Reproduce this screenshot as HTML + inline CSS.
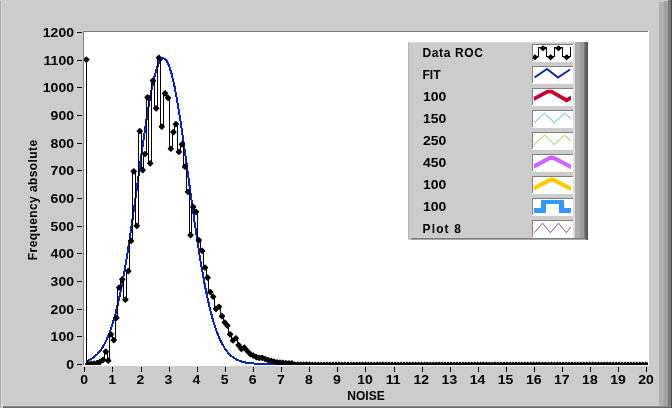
<!DOCTYPE html><html><head><meta charset="utf-8"><style>html,body{margin:0;padding:0;width:672px;height:408px;overflow:hidden;background:#cccccc}svg{display:block;will-change:transform}text{font-family:"Liberation Sans",sans-serif;font-weight:bold;fill:#000}</style></head><body>
<svg width="672" height="408" viewBox="0 0 672 408" shape-rendering="crispEdges">
<rect x="0" y="0" width="672" height="408" fill="#cccccc"/>
<rect x="0" y="1" width="1" height="407" fill="#ababab"/>
<rect x="1" y="0" width="1" height="408" fill="#dadada"/>
<rect x="659" y="2" width="5" height="406" fill="#b0b0b0"/>
<rect x="664" y="1" width="4" height="407" fill="#a0a0a0"/>
<rect x="668" y="0" width="3" height="408" fill="#7a7a7a"/>
<rect x="3" y="406" width="668" height="1" fill="#8a8a8a"/>
<rect x="3" y="407" width="668" height="1" fill="#6a6a6a"/>
<rect x="671" y="0" width="1" height="408" fill="#484848"/>
<rect x="83" y="31" width="566" height="335" fill="#ffffff"/>
<rect x="83" y="31" width="565" height="1" fill="#808080"/>
<rect x="83" y="31" width="1" height="334" fill="#808080"/>
<rect x="77" y="364" width="5" height="1" fill="#000"/>
<text transform="translate(74,369.1) scale(1.17,1)" font-size="12" text-anchor="end">0</text>
<rect x="77" y="336" width="5" height="1" fill="#000"/>
<text transform="translate(74,341.4) scale(1.17,1)" font-size="12" text-anchor="end">100</text>
<rect x="77" y="309" width="5" height="1" fill="#000"/>
<text transform="translate(74,313.8) scale(1.17,1)" font-size="12" text-anchor="end">200</text>
<rect x="77" y="281" width="5" height="1" fill="#000"/>
<text transform="translate(74,286.1) scale(1.17,1)" font-size="12" text-anchor="end">300</text>
<rect x="77" y="253" width="5" height="1" fill="#000"/>
<text transform="translate(74,258.4) scale(1.17,1)" font-size="12" text-anchor="end">400</text>
<rect x="77" y="226" width="5" height="1" fill="#000"/>
<text transform="translate(74,230.8) scale(1.17,1)" font-size="12" text-anchor="end">500</text>
<rect x="77" y="198" width="5" height="1" fill="#000"/>
<text transform="translate(74,203.1) scale(1.17,1)" font-size="12" text-anchor="end">600</text>
<rect x="77" y="170" width="5" height="1" fill="#000"/>
<text transform="translate(74,175.4) scale(1.17,1)" font-size="12" text-anchor="end">700</text>
<rect x="77" y="143" width="5" height="1" fill="#000"/>
<text transform="translate(74,147.8) scale(1.17,1)" font-size="12" text-anchor="end">800</text>
<rect x="77" y="115" width="5" height="1" fill="#000"/>
<text transform="translate(74,120.1) scale(1.17,1)" font-size="12" text-anchor="end">900</text>
<rect x="77" y="87" width="5" height="1" fill="#000"/>
<text transform="translate(74,92.4) scale(1.17,1)" font-size="12" text-anchor="end">1000</text>
<rect x="77" y="60" width="5" height="1" fill="#000"/>
<text transform="translate(74,64.8) scale(1.17,1)" font-size="12" text-anchor="end">1100</text>
<rect x="77" y="32" width="5" height="1" fill="#000"/>
<text transform="translate(74,37.1) scale(1.17,1)" font-size="12" text-anchor="end">1200</text>
<rect x="84" y="367" width="1" height="5" fill="#000"/>
<text transform="translate(84.1,384) scale(1.17,1)" font-size="12" text-anchor="middle">0</text>
<rect x="112" y="367" width="1" height="5" fill="#000"/>
<text transform="translate(112.2,384) scale(1.17,1)" font-size="12" text-anchor="middle">1</text>
<rect x="141" y="367" width="1" height="5" fill="#000"/>
<text transform="translate(140.3,384) scale(1.17,1)" font-size="12" text-anchor="middle">2</text>
<rect x="169" y="367" width="1" height="5" fill="#000"/>
<text transform="translate(168.4,384) scale(1.17,1)" font-size="12" text-anchor="middle">3</text>
<rect x="197" y="367" width="1" height="5" fill="#000"/>
<text transform="translate(196.5,384) scale(1.17,1)" font-size="12" text-anchor="middle">4</text>
<rect x="225" y="367" width="1" height="5" fill="#000"/>
<text transform="translate(224.6,384) scale(1.17,1)" font-size="12" text-anchor="middle">5</text>
<rect x="253" y="367" width="1" height="5" fill="#000"/>
<text transform="translate(252.7,384) scale(1.17,1)" font-size="12" text-anchor="middle">6</text>
<rect x="281" y="367" width="1" height="5" fill="#000"/>
<text transform="translate(280.8,384) scale(1.17,1)" font-size="12" text-anchor="middle">7</text>
<rect x="309" y="367" width="1" height="5" fill="#000"/>
<text transform="translate(308.9,384) scale(1.17,1)" font-size="12" text-anchor="middle">8</text>
<rect x="337" y="367" width="1" height="5" fill="#000"/>
<text transform="translate(337.0,384) scale(1.17,1)" font-size="12" text-anchor="middle">9</text>
<rect x="365" y="367" width="1" height="5" fill="#000"/>
<text transform="translate(365.1,384) scale(1.17,1)" font-size="12" text-anchor="middle">10</text>
<rect x="394" y="367" width="1" height="5" fill="#000"/>
<text transform="translate(393.2,384) scale(1.17,1)" font-size="12" text-anchor="middle">11</text>
<rect x="422" y="367" width="1" height="5" fill="#000"/>
<text transform="translate(421.3,384) scale(1.17,1)" font-size="12" text-anchor="middle">12</text>
<rect x="450" y="367" width="1" height="5" fill="#000"/>
<text transform="translate(449.4,384) scale(1.17,1)" font-size="12" text-anchor="middle">13</text>
<rect x="478" y="367" width="1" height="5" fill="#000"/>
<text transform="translate(477.5,384) scale(1.17,1)" font-size="12" text-anchor="middle">14</text>
<rect x="506" y="367" width="1" height="5" fill="#000"/>
<text transform="translate(505.6,384) scale(1.17,1)" font-size="12" text-anchor="middle">15</text>
<rect x="534" y="367" width="1" height="5" fill="#000"/>
<text transform="translate(533.7,384) scale(1.17,1)" font-size="12" text-anchor="middle">16</text>
<rect x="562" y="367" width="1" height="5" fill="#000"/>
<text transform="translate(561.8,384) scale(1.17,1)" font-size="12" text-anchor="middle">17</text>
<rect x="590" y="367" width="1" height="5" fill="#000"/>
<text transform="translate(589.9,384) scale(1.17,1)" font-size="12" text-anchor="middle">18</text>
<rect x="618" y="367" width="1" height="5" fill="#000"/>
<text transform="translate(618.0,384) scale(1.17,1)" font-size="12" text-anchor="middle">19</text>
<rect x="646" y="367" width="1" height="5" fill="#000"/>
<text transform="translate(646.1,384) scale(1.17,1)" font-size="12" text-anchor="middle">20</text>
<text x="366" y="399.5" font-size="12" text-anchor="middle">NOISE</text>
<text transform="translate(36.6,199.8) rotate(-90)" x="0" y="0" font-size="12" letter-spacing="0.41" text-anchor="middle">Frequency absolute</text>
<svg x="84" y="32" width="564" height="333" viewBox="84 32 564 333" overflow="hidden">
<path d="M86.00,361.27 L88.95,360.11 L91.90,358.54 L94.85,356.44 L97.80,353.68 L100.75,350.09 L103.70,345.51 L106.65,339.77 L109.60,332.66 L112.55,324.03 L115.50,313.72 L118.45,301.61 L121.40,287.64 L124.35,271.81 L127.30,254.22 L130.25,235.05 L133.20,214.61 L136.15,193.28 L139.10,171.56 L142.05,150.04 L145.00,129.35 L147.95,110.18 L150.90,93.17 L153.85,78.97 L156.80,68.11 L159.75,61.03 L162.70,58.01 L165.65,59.16 L168.60,64.46 L171.55,73.67 L174.50,86.44 L177.45,102.26 L180.40,120.55 L183.35,140.64 L186.30,161.87 L189.25,183.57 L192.20,205.14 L195.15,226.04 L198.10,245.82 L201.05,264.15 L204.00,280.78 L206.95,295.59 L209.90,308.53 L212.85,319.64 L215.80,329.00 L218.75,336.77 L221.70,343.10 L224.65,348.18 L227.60,352.18 L230.55,355.30 L233.50,357.68 L236.45,359.47 L239.40,360.80 L242.35,361.77 L245.30,362.46 L248.25,362.96 L251.20,363.30 L254.15,363.54 L257.10,363.70 L260.05,363.81 L263.00,363.88 L265.95,363.92 L268.90,363.95 L271.85,363.97 L274.80,363.98 L277.75,363.99 L280.70,363.99 L283.65,364.00 L286.60,364.00 L289.55,364.00 L292.50,364.00 L295.45,364.00 L298.40,364.00 L301.35,364.00 L304.30,364.00 L307.25,364.00 L310.20,364.00 L313.15,364.00 L316.10,364.00 L319.05,364.00 L322.00,364.00 L324.95,364.00 L327.90,364.00 L330.85,364.00 L333.80,364.00 L336.75,364.00 L339.70,364.00 L342.65,364.00 L345.60,364.00 L348.55,364.00 L351.50,364.00 L354.45,364.00 L357.40,364.00 L360.35,364.00 L363.30,364.00 L366.25,364.00 L369.20,364.00 L372.15,364.00 L375.10,364.00 L378.05,364.00 L381.00,364.00 L383.95,364.00 L386.90,364.00 L389.85,364.00 L392.80,364.00 L395.75,364.00 L398.70,364.00 L401.65,364.00 L404.60,364.00 L407.55,364.00 L410.50,364.00 L413.45,364.00 L416.40,364.00 L419.35,364.00 L422.30,364.00 L425.25,364.00 L428.20,364.00 L431.15,364.00 L434.10,364.00 L437.05,364.00 L440.00,364.00 L442.95,364.00 L445.90,364.00 L448.85,364.00 L451.80,364.00 L454.75,364.00 L457.70,364.00 L460.65,364.00 L463.60,364.00 L466.55,364.00 L469.50,364.00 L472.45,364.00 L475.40,364.00 L478.35,364.00 L481.30,364.00 L484.25,364.00 L487.20,364.00 L490.15,364.00 L493.10,364.00 L496.05,364.00 L499.00,364.00 L501.95,364.00 L504.90,364.00 L507.85,364.00 L510.80,364.00 L513.75,364.00 L516.70,364.00 L519.65,364.00 L522.60,364.00 L525.55,364.00 L528.50,364.00 L531.45,364.00 L534.40,364.00 L537.35,364.00 L540.30,364.00 L543.25,364.00 L546.20,364.00 L549.15,364.00 L552.10,364.00 L555.05,364.00 L558.00,364.00 L560.95,364.00 L563.90,364.00 L566.85,364.00 L569.80,364.00 L572.75,364.00 L575.70,364.00 L578.65,364.00 L581.60,364.00 L584.55,364.00 L587.50,364.00 L590.45,364.00 L593.40,364.00 L596.35,364.00 L599.30,364.00 L602.25,364.00 L605.20,364.00 L608.15,364.00 L611.10,364.00 L614.05,364.00 L617.00,364.00 L619.95,364.00 L622.90,364.00 L625.85,364.00 L628.80,364.00 L631.75,364.00 L634.70,364.00 L637.65,364.00 L640.60,364.00 L643.55,364.00 L646.50,364.00 L649.45,364.00" fill="none" stroke="#0028b4" stroke-width="2" shape-rendering="crispEdges"/>
<path d="M86.5,59.5L86.5,59.5L86.5,364.5L89.5,364.5L89.5,363.5L92.5,363.5L92.5,363.5L95.5,363.5L95.5,363.5L98.5,363.5L98.5,361.5L101.5,361.5L101.5,359.5L104.5,359.5L104.5,351.5L107.5,351.5L107.5,360.5L109.5,360.5L109.5,334.5L112.5,334.5L112.5,340.5L115.5,340.5L115.5,317.5L117.5,317.5L117.5,287.5L120.5,287.5L120.5,279.5L123.5,279.5L123.5,299.5L126.5,299.5L126.5,271.5L129.5,271.5L129.5,240.5L132.5,240.5L132.5,171.5L135.5,171.5L135.5,225.5L138.5,225.5L138.5,131.5L141.5,131.5L141.5,170.5L143.5,170.5L143.5,154.5L146.5,154.5L146.5,97.5L148.5,97.5L148.5,163.5L151.5,163.5L151.5,80.5L154.5,80.5L154.5,108.5L157.5,108.5L157.5,57.5L160.5,57.5L160.5,126.5L163.5,126.5L163.5,93.5L166.5,93.5L166.5,97.5L169.5,97.5L169.5,148.5L172.5,148.5L172.5,132.5L174.5,132.5L174.5,124.5L177.5,124.5L177.5,151.5L180.5,151.5L180.5,144.5L183.5,144.5L183.5,166.5L186.5,166.5L186.5,191.5L189.5,191.5L189.5,235.5L191.5,235.5L191.5,206.5L194.5,206.5L194.5,211.5L197.5,211.5L197.5,240.5L200.5,240.5L200.5,250.5L203.5,250.5L203.5,267.5L206.5,267.5L206.5,277.5L208.5,277.5L208.5,292.5L211.5,292.5L211.5,296.5L214.5,296.5L214.5,308.5L217.5,308.5L217.5,306.5L220.5,306.5L220.5,316.5L223.5,316.5L223.5,322.5L226.5,322.5L226.5,325.5L228.5,325.5L228.5,334.5L231.5,334.5L231.5,340.5L234.5,340.5L234.5,338.5L237.5,338.5L237.5,345.5L240.5,345.5L240.5,348.5L242.5,348.5L242.5,347.5L245.5,347.5L245.5,350.5L248.5,350.5L248.5,354.5L251.5,354.5L251.5,355.5L254.5,355.5L254.5,357.5L257.5,357.5L257.5,357.5L260.5,357.5L260.5,357.5L263.5,357.5L263.5,359.5L266.5,359.5L266.5,360.5L269.5,360.5L269.5,360.5L272.5,360.5L272.5,361.5L275.5,361.5L275.5,362.5L278.5,362.5L278.5,362.5L281.5,362.5L281.5,362.5L284.5,362.5L284.5,363.5L287.5,363.5L287.5,363.5L290.5,363.5L290.5,363.5L293.5,363.5L293.5,364.5L296.5,364.5L296.5,364.5L299.5,364.5L299.5,364.5L302.5,364.5L302.5,364.5L305.5,364.5L305.5,364.5L307.5,364.5L307.5,364.5L310.5,364.5L310.5,364.5L313.5,364.5L313.5,364.5L316.5,364.5L316.5,364.5L319.5,364.5L319.5,364.5L322.5,364.5L322.5,364.5L325.5,364.5L325.5,364.5L328.5,364.5L328.5,364.5L331.5,364.5L331.5,364.5L334.5,364.5L334.5,364.5L337.5,364.5L337.5,364.5L340.5,364.5L340.5,364.5L343.5,364.5L343.5,364.5L346.5,364.5L346.5,364.5L349.5,364.5L349.5,364.5L352.5,364.5L352.5,364.5L355.5,364.5L355.5,364.5L358.5,364.5L358.5,364.5L361.5,364.5L361.5,364.5L364.5,364.5L364.5,364.5L366.5,364.5L366.5,364.5L369.5,364.5L369.5,364.5L372.5,364.5L372.5,364.5L375.5,364.5L375.5,364.5L378.5,364.5L378.5,364.5L381.5,364.5L381.5,364.5L384.5,364.5L384.5,364.5L387.5,364.5L387.5,364.5L390.5,364.5L390.5,364.5L393.5,364.5L393.5,364.5L396.5,364.5L396.5,364.5L399.5,364.5L399.5,364.5L402.5,364.5L402.5,364.5L405.5,364.5L405.5,364.5L408.5,364.5L408.5,364.5L411.5,364.5L411.5,364.5L414.5,364.5L414.5,364.5L417.5,364.5L417.5,364.5L420.5,364.5L420.5,364.5L423.5,364.5L423.5,364.5L425.5,364.5L425.5,364.5L428.5,364.5L428.5,364.5L431.5,364.5L431.5,364.5L434.5,364.5L434.5,364.5L437.5,364.5L437.5,364.5L440.5,364.5L440.5,364.5L443.5,364.5L443.5,364.5L446.5,364.5L446.5,364.5L449.5,364.5L449.5,364.5L452.5,364.5L452.5,364.5L455.5,364.5L455.5,364.5L458.5,364.5L458.5,364.5L461.5,364.5L461.5,364.5L464.5,364.5L464.5,364.5L467.5,364.5L467.5,364.5L470.5,364.5L470.5,364.5L473.5,364.5L473.5,364.5L476.5,364.5L476.5,364.5L479.5,364.5L479.5,364.5L482.5,364.5L482.5,364.5L484.5,364.5L484.5,364.5L487.5,364.5L487.5,364.5L490.5,364.5L490.5,364.5L493.5,364.5L493.5,364.5L496.5,364.5L496.5,364.5L499.5,364.5L499.5,364.5L502.5,364.5L502.5,364.5L505.5,364.5L505.5,364.5L508.5,364.5L508.5,364.5L511.5,364.5L511.5,364.5L514.5,364.5L514.5,364.5L517.5,364.5L517.5,364.5L520.5,364.5L520.5,364.5L523.5,364.5L523.5,364.5L526.5,364.5L526.5,364.5L529.5,364.5L529.5,364.5L532.5,364.5L532.5,364.5L535.5,364.5L535.5,364.5L538.5,364.5L538.5,364.5L541.5,364.5L541.5,364.5L543.5,364.5L543.5,364.5L546.5,364.5L546.5,364.5L549.5,364.5L549.5,364.5L552.5,364.5L552.5,364.5L555.5,364.5L555.5,364.5L558.5,364.5L558.5,364.5L561.5,364.5L561.5,364.5L564.5,364.5L564.5,364.5L567.5,364.5L567.5,364.5L570.5,364.5L570.5,364.5L573.5,364.5L573.5,364.5L576.5,364.5L576.5,364.5L579.5,364.5L579.5,364.5L582.5,364.5L582.5,364.5L585.5,364.5L585.5,364.5L588.5,364.5L588.5,364.5L591.5,364.5L591.5,364.5L594.5,364.5L594.5,364.5L597.5,364.5L597.5,364.5L600.5,364.5L600.5,364.5L602.5,364.5L602.5,364.5L605.5,364.5L605.5,364.5L608.5,364.5L608.5,364.5L611.5,364.5L611.5,364.5L614.5,364.5L614.5,364.5L617.5,364.5L617.5,364.5L620.5,364.5L620.5,364.5L623.5,364.5L623.5,364.5L626.5,364.5L626.5,364.5L629.5,364.5L629.5,364.5L632.5,364.5L632.5,364.5L635.5,364.5L635.5,364.5L638.5,364.5L638.5,364.5L641.5,364.5L641.5,364.5L644.5,364.5L644.5,364.5L647.5,364.5L647.5,364.5L650.5,364.5L650.5,364.5L653.5,364.5" fill="none" stroke="#000" stroke-width="1" shape-rendering="crispEdges"/>
<path d="M83.20,59.32L85.95,56.57L86.65,56.57L89.40,59.32L89.40,60.02L86.65,62.77L85.95,62.77L83.20,60.02ZM84.90,363.65L87.65,360.90L88.35,360.90L91.10,363.65L91.10,364.35L88.35,367.10L87.65,367.10L84.90,364.35ZM87.90,363.37L90.65,360.62L91.35,360.62L94.10,363.37L94.10,364.07L91.35,366.82L90.65,366.82L87.90,364.07ZM90.90,363.37L93.65,360.62L94.35,360.62L97.10,363.37L97.10,364.07L94.35,366.82L93.65,366.82L90.90,364.07ZM93.90,362.82L96.65,360.07L97.35,360.07L100.10,362.82L100.10,363.52L97.35,366.27L96.65,366.27L93.90,363.52ZM96.90,361.44L99.65,358.69L100.35,358.69L103.10,361.44L103.10,362.14L100.35,364.89L99.65,364.89L96.90,362.14ZM99.90,359.50L102.65,356.75L103.35,356.75L106.10,359.50L106.10,360.20L103.35,362.95L102.65,362.95L99.90,360.20ZM102.70,351.20L105.45,348.45L106.15,348.45L108.90,351.20L108.90,351.90L106.15,354.65L105.45,354.65L102.70,351.90ZM105.10,360.33L107.85,357.58L108.55,357.58L111.30,360.33L111.30,361.03L108.55,363.78L107.85,363.78L105.10,361.03ZM107.80,334.05L110.55,331.30L111.25,331.30L114.00,334.05L114.00,334.75L111.25,337.50L110.55,337.50L107.80,334.75ZM110.70,339.86L113.45,337.11L114.15,337.11L116.90,339.86L116.90,340.56L114.15,343.31L113.45,343.31L110.70,340.56ZM113.30,317.45L116.05,314.70L116.75,314.70L119.50,317.45L119.50,318.15L116.75,320.90L116.05,320.90L113.30,318.15ZM116.10,287.29L118.85,284.54L119.55,284.54L122.30,287.29L122.30,287.99L119.55,290.74L118.85,290.74L116.10,287.99ZM119.20,278.99L121.95,276.24L122.65,276.24L125.40,278.99L125.40,279.69L122.65,282.44L121.95,282.44L119.20,279.69ZM122.30,299.19L125.05,296.44L125.75,296.44L128.50,299.19L128.50,299.89L125.75,302.64L125.05,302.64L122.30,299.89ZM125.20,270.69L127.95,267.94L128.65,267.94L131.40,270.69L131.40,271.39L128.65,274.14L127.95,274.14L125.20,271.39ZM127.90,240.53L130.65,237.78L131.35,237.78L134.10,240.53L134.10,241.23L131.35,243.98L130.65,243.98L127.90,241.23ZM130.70,171.09L133.45,168.34L134.15,168.34L136.90,171.09L136.90,171.79L134.15,174.54L133.45,174.54L130.70,171.79ZM133.70,225.59L136.45,222.84L137.15,222.84L139.90,225.59L139.90,226.29L137.15,229.04L136.45,229.04L133.70,226.29ZM136.60,130.70L139.35,127.95L140.05,127.95L142.80,130.70L142.80,131.40L140.05,134.15L139.35,134.15L136.60,131.40ZM139.50,169.71L142.25,166.96L142.95,166.96L145.70,169.71L145.70,170.41L142.95,173.16L142.25,173.16L139.50,170.41ZM141.90,153.66L144.65,150.91L145.35,150.91L148.10,153.66L148.10,154.36L145.35,157.11L144.65,157.11L141.90,154.36ZM144.40,96.94L147.15,94.19L147.85,94.19L150.60,96.94L150.60,97.64L147.85,100.39L147.15,100.39L144.40,97.64ZM147.10,163.07L149.85,160.32L150.55,160.32L153.30,163.07L153.30,163.77L150.55,166.52L149.85,166.52L147.10,163.77ZM149.90,80.34L152.65,77.59L153.35,77.59L156.10,80.34L156.10,81.04L153.35,83.79L152.65,83.79L149.90,81.04ZM153.10,108.01L155.85,105.26L156.55,105.26L159.30,108.01L159.30,108.71L156.55,111.46L155.85,111.46L153.10,108.71ZM155.80,57.38L158.55,54.63L159.25,54.63L162.00,57.38L162.00,58.08L159.25,60.83L158.55,60.83L155.80,58.08ZM158.70,126.27L161.45,123.52L162.15,123.52L164.90,126.27L164.90,126.97L162.15,129.72L161.45,129.72L158.70,126.97ZM161.90,93.07L164.65,90.32L165.35,90.32L168.10,93.07L168.10,93.77L165.35,96.52L164.65,96.52L161.90,93.77ZM164.90,97.50L167.65,94.75L168.35,94.75L171.10,97.50L171.10,98.20L168.35,100.95L167.65,100.95L164.90,98.20ZM167.70,148.40L170.45,145.65L171.15,145.65L173.90,148.40L173.90,149.10L171.15,151.85L170.45,151.85L167.70,149.10ZM170.30,131.80L173.05,129.05L173.75,129.05L176.50,131.80L176.50,132.50L173.75,135.25L173.05,135.25L170.30,132.50ZM172.80,123.78L175.55,121.03L176.25,121.03L179.00,123.78L179.00,124.48L176.25,127.23L175.55,127.23L172.80,124.48ZM175.80,151.45L178.55,148.70L179.25,148.70L182.00,151.45L182.00,152.15L179.25,154.90L178.55,154.90L175.80,152.15ZM178.90,143.98L181.65,141.23L182.35,141.23L185.10,143.98L185.10,144.68L182.35,147.43L181.65,147.43L178.90,144.68ZM181.80,166.39L184.55,163.64L185.25,163.64L188.00,166.39L188.00,167.09L185.25,169.84L184.55,169.84L181.80,167.09ZM184.80,191.56L187.55,188.81L188.25,188.81L191.00,191.56L191.00,192.26L188.25,195.01L187.55,195.01L184.80,192.26ZM187.50,234.72L190.25,231.97L190.95,231.97L193.70,234.72L193.70,235.42L190.95,238.17L190.25,238.17L187.50,235.42ZM190.10,206.50L192.85,203.75L193.55,203.75L196.30,206.50L196.30,207.20L193.55,209.95L192.85,209.95L190.10,207.20ZM192.90,211.48L195.65,208.73L196.35,208.73L199.10,211.48L199.10,212.18L196.35,214.93L195.65,214.93L192.90,212.18ZM195.70,239.70L198.45,236.95L199.15,236.95L201.90,239.70L201.90,240.40L199.15,243.15L198.45,243.15L195.70,240.40ZM199.10,250.49L201.85,247.74L202.55,247.74L205.30,250.49L205.30,251.19L202.55,253.94L201.85,253.94L199.10,251.19ZM201.90,267.37L204.65,264.62L205.35,264.62L208.10,267.37L208.10,268.07L205.35,270.82L204.65,270.82L201.90,268.07ZM204.50,277.33L207.25,274.58L207.95,274.58L210.70,277.33L210.70,278.03L207.95,280.78L207.25,280.78L204.50,278.03ZM207.20,291.72L209.95,288.97L210.65,288.97L213.40,291.72L213.40,292.42L210.65,295.17L209.95,295.17L207.20,292.42ZM210.10,296.42L212.85,293.67L213.55,293.67L216.30,296.42L216.30,297.12L213.55,299.87L212.85,299.87L210.10,297.12ZM212.90,308.59L215.65,305.84L216.35,305.84L219.10,308.59L219.10,309.29L216.35,312.04L215.65,312.04L212.90,309.29ZM215.90,306.38L218.65,303.63L219.35,303.63L222.10,306.38L222.10,307.08L219.35,309.83L218.65,309.83L215.90,307.08ZM218.90,315.79L221.65,313.04L222.35,313.04L225.10,315.79L225.10,316.49L222.35,319.24L221.65,319.24L218.90,316.49ZM221.70,322.15L224.45,319.40L225.15,319.40L227.90,322.15L227.90,322.85L225.15,325.60L224.45,325.60L221.70,322.85ZM224.30,325.19L227.05,322.44L227.75,322.44L230.50,325.19L230.50,325.89L227.75,328.64L227.05,328.64L224.30,325.89ZM227.00,334.05L229.75,331.30L230.45,331.30L233.20,334.05L233.20,334.75L230.45,337.50L229.75,337.50L227.00,334.75ZM229.80,340.13L232.55,337.38L233.25,337.38L236.00,340.13L236.00,340.83L233.25,343.58L232.55,343.58L229.80,340.83ZM232.80,337.92L235.55,335.17L236.25,335.17L239.00,337.92L239.00,338.62L236.25,341.37L235.55,341.37L232.80,338.62ZM235.50,344.84L238.25,342.09L238.95,342.09L241.70,344.84L241.70,345.54L238.95,348.29L238.25,348.29L235.50,345.54ZM238.30,348.43L241.05,345.68L241.75,345.68L244.50,348.43L244.50,349.13L241.75,351.88L241.05,351.88L238.30,349.13ZM241.20,347.33L243.95,344.58L244.65,344.58L247.40,347.33L247.40,348.03L244.65,350.78L243.95,350.78L241.20,348.03ZM244.20,350.65L246.95,347.90L247.65,347.90L250.40,350.65L250.40,351.35L247.65,354.10L246.95,354.10L244.20,351.35ZM247.30,353.69L250.05,350.94L250.75,350.94L253.50,353.69L253.50,354.39L250.75,357.14L250.05,357.14L247.30,354.39ZM250.30,355.35L253.05,352.60L253.75,352.60L256.50,355.35L256.50,356.05L253.75,358.80L253.05,358.80L250.30,356.05ZM253.25,356.73L256.00,353.98L256.70,353.98L259.45,356.73L259.45,357.43L256.70,360.18L256.00,360.18L253.25,357.43ZM256.20,357.56L258.95,354.81L259.65,354.81L262.40,357.56L262.40,358.26L259.65,361.01L258.95,361.01L256.20,358.26ZM259.15,357.56L261.90,354.81L262.60,354.81L265.35,357.56L265.35,358.26L262.60,361.01L261.90,361.01L259.15,358.26ZM262.10,358.67L264.85,355.92L265.55,355.92L268.30,358.67L268.30,359.37L265.55,362.12L264.85,362.12L262.10,359.37ZM265.05,359.78L267.80,357.03L268.50,357.03L271.25,359.78L271.25,360.48L268.50,363.23L267.80,363.23L265.05,360.48ZM268.00,360.61L270.75,357.86L271.45,357.86L274.20,360.61L274.20,361.31L271.45,364.06L270.75,364.06L268.00,361.31ZM270.95,361.16L273.70,358.41L274.40,358.41L277.15,361.16L277.15,361.86L274.40,364.61L273.70,364.61L270.95,361.86ZM273.90,361.99L276.65,359.24L277.35,359.24L280.10,361.99L280.10,362.69L277.35,365.44L276.65,365.44L273.90,362.69ZM276.85,362.27L279.60,359.52L280.30,359.52L283.05,362.27L283.05,362.97L280.30,365.72L279.60,365.72L276.85,362.97ZM279.80,362.54L282.55,359.79L283.25,359.79L286.00,362.54L286.00,363.24L283.25,365.99L282.55,365.99L279.80,363.24ZM282.75,362.82L285.50,360.07L286.20,360.07L288.95,362.82L288.95,363.52L286.20,366.27L285.50,366.27L282.75,363.52ZM285.70,363.10L288.45,360.35L289.15,360.35L291.90,363.10L291.90,363.80L289.15,366.55L288.45,366.55L285.70,363.80ZM288.65,363.10L291.40,360.35L292.10,360.35L294.85,363.10L294.85,363.80L292.10,366.55L291.40,366.55L288.65,363.80ZM291.60,364.27L294.35,361.52L295.05,361.52L297.80,364.27L297.80,364.97L295.05,367.72L294.35,367.72L291.60,364.97ZM294.55,364.27L297.30,361.52L298.00,361.52L300.75,364.27L300.75,364.97L298.00,367.72L297.30,367.72L294.55,364.97ZM297.50,364.27L300.25,361.52L300.95,361.52L303.70,364.27L303.70,364.97L300.95,367.72L300.25,367.72L297.50,364.97ZM300.45,364.27L303.20,361.52L303.90,361.52L306.65,364.27L306.65,364.97L303.90,367.72L303.20,367.72L300.45,364.97ZM303.40,364.27L306.15,361.52L306.85,361.52L309.60,364.27L309.60,364.97L306.85,367.72L306.15,367.72L303.40,364.97ZM306.35,364.27L309.10,361.52L309.80,361.52L312.55,364.27L312.55,364.97L309.80,367.72L309.10,367.72L306.35,364.97ZM309.30,364.55L312.05,361.80L312.75,361.80L315.50,364.55L315.50,365.25L312.75,368.00L312.05,368.00L309.30,365.25ZM312.25,364.55L315.00,361.80L315.70,361.80L318.45,364.55L318.45,365.25L315.70,368.00L315.00,368.00L312.25,365.25ZM315.20,364.55L317.95,361.80L318.65,361.80L321.40,364.55L321.40,365.25L318.65,368.00L317.95,368.00L315.20,365.25ZM318.15,364.55L320.90,361.80L321.60,361.80L324.35,364.55L324.35,365.25L321.60,368.00L320.90,368.00L318.15,365.25ZM321.10,364.55L323.85,361.80L324.55,361.80L327.30,364.55L327.30,365.25L324.55,368.00L323.85,368.00L321.10,365.25ZM324.05,364.55L326.80,361.80L327.50,361.80L330.25,364.55L330.25,365.25L327.50,368.00L326.80,368.00L324.05,365.25ZM327.00,364.55L329.75,361.80L330.45,361.80L333.20,364.55L333.20,365.25L330.45,368.00L329.75,368.00L327.00,365.25ZM329.95,364.55L332.70,361.80L333.40,361.80L336.15,364.55L336.15,365.25L333.40,368.00L332.70,368.00L329.95,365.25ZM332.90,364.55L335.65,361.80L336.35,361.80L339.10,364.55L339.10,365.25L336.35,368.00L335.65,368.00L332.90,365.25ZM335.85,364.55L338.60,361.80L339.30,361.80L342.05,364.55L342.05,365.25L339.30,368.00L338.60,368.00L335.85,365.25ZM338.80,364.55L341.55,361.80L342.25,361.80L345.00,364.55L345.00,365.25L342.25,368.00L341.55,368.00L338.80,365.25ZM341.75,364.55L344.50,361.80L345.20,361.80L347.95,364.55L347.95,365.25L345.20,368.00L344.50,368.00L341.75,365.25ZM344.70,364.55L347.45,361.80L348.15,361.80L350.90,364.55L350.90,365.25L348.15,368.00L347.45,368.00L344.70,365.25ZM347.65,364.55L350.40,361.80L351.10,361.80L353.85,364.55L353.85,365.25L351.10,368.00L350.40,368.00L347.65,365.25ZM350.60,364.55L353.35,361.80L354.05,361.80L356.80,364.55L356.80,365.25L354.05,368.00L353.35,368.00L350.60,365.25ZM353.55,364.55L356.30,361.80L357.00,361.80L359.75,364.55L359.75,365.25L357.00,368.00L356.30,368.00L353.55,365.25ZM356.50,364.55L359.25,361.80L359.95,361.80L362.70,364.55L362.70,365.25L359.95,368.00L359.25,368.00L356.50,365.25ZM359.45,364.55L362.20,361.80L362.90,361.80L365.65,364.55L365.65,365.25L362.90,368.00L362.20,368.00L359.45,365.25ZM362.40,364.55L365.15,361.80L365.85,361.80L368.60,364.55L368.60,365.25L365.85,368.00L365.15,368.00L362.40,365.25ZM365.35,364.55L368.10,361.80L368.80,361.80L371.55,364.55L371.55,365.25L368.80,368.00L368.10,368.00L365.35,365.25ZM368.30,364.55L371.05,361.80L371.75,361.80L374.50,364.55L374.50,365.25L371.75,368.00L371.05,368.00L368.30,365.25ZM371.25,364.55L374.00,361.80L374.70,361.80L377.45,364.55L377.45,365.25L374.70,368.00L374.00,368.00L371.25,365.25ZM374.20,364.55L376.95,361.80L377.65,361.80L380.40,364.55L380.40,365.25L377.65,368.00L376.95,368.00L374.20,365.25ZM377.15,364.55L379.90,361.80L380.60,361.80L383.35,364.55L383.35,365.25L380.60,368.00L379.90,368.00L377.15,365.25ZM380.10,364.55L382.85,361.80L383.55,361.80L386.30,364.55L386.30,365.25L383.55,368.00L382.85,368.00L380.10,365.25ZM383.05,364.55L385.80,361.80L386.50,361.80L389.25,364.55L389.25,365.25L386.50,368.00L385.80,368.00L383.05,365.25ZM386.00,364.55L388.75,361.80L389.45,361.80L392.20,364.55L392.20,365.25L389.45,368.00L388.75,368.00L386.00,365.25ZM388.95,364.55L391.70,361.80L392.40,361.80L395.15,364.55L395.15,365.25L392.40,368.00L391.70,368.00L388.95,365.25ZM391.90,364.55L394.65,361.80L395.35,361.80L398.10,364.55L398.10,365.25L395.35,368.00L394.65,368.00L391.90,365.25ZM394.85,364.55L397.60,361.80L398.30,361.80L401.05,364.55L401.05,365.25L398.30,368.00L397.60,368.00L394.85,365.25ZM397.80,364.55L400.55,361.80L401.25,361.80L404.00,364.55L404.00,365.25L401.25,368.00L400.55,368.00L397.80,365.25ZM400.75,364.55L403.50,361.80L404.20,361.80L406.95,364.55L406.95,365.25L404.20,368.00L403.50,368.00L400.75,365.25ZM403.70,364.55L406.45,361.80L407.15,361.80L409.90,364.55L409.90,365.25L407.15,368.00L406.45,368.00L403.70,365.25ZM406.65,364.55L409.40,361.80L410.10,361.80L412.85,364.55L412.85,365.25L410.10,368.00L409.40,368.00L406.65,365.25ZM409.60,364.55L412.35,361.80L413.05,361.80L415.80,364.55L415.80,365.25L413.05,368.00L412.35,368.00L409.60,365.25ZM412.55,364.55L415.30,361.80L416.00,361.80L418.75,364.55L418.75,365.25L416.00,368.00L415.30,368.00L412.55,365.25ZM415.50,364.55L418.25,361.80L418.95,361.80L421.70,364.55L421.70,365.25L418.95,368.00L418.25,368.00L415.50,365.25ZM418.45,364.55L421.20,361.80L421.90,361.80L424.65,364.55L424.65,365.25L421.90,368.00L421.20,368.00L418.45,365.25ZM421.40,364.55L424.15,361.80L424.85,361.80L427.60,364.55L427.60,365.25L424.85,368.00L424.15,368.00L421.40,365.25ZM424.35,364.55L427.10,361.80L427.80,361.80L430.55,364.55L430.55,365.25L427.80,368.00L427.10,368.00L424.35,365.25ZM427.30,364.55L430.05,361.80L430.75,361.80L433.50,364.55L433.50,365.25L430.75,368.00L430.05,368.00L427.30,365.25ZM430.25,364.55L433.00,361.80L433.70,361.80L436.45,364.55L436.45,365.25L433.70,368.00L433.00,368.00L430.25,365.25ZM433.20,364.55L435.95,361.80L436.65,361.80L439.40,364.55L439.40,365.25L436.65,368.00L435.95,368.00L433.20,365.25ZM436.15,364.55L438.90,361.80L439.60,361.80L442.35,364.55L442.35,365.25L439.60,368.00L438.90,368.00L436.15,365.25ZM439.10,364.55L441.85,361.80L442.55,361.80L445.30,364.55L445.30,365.25L442.55,368.00L441.85,368.00L439.10,365.25ZM442.05,364.55L444.80,361.80L445.50,361.80L448.25,364.55L448.25,365.25L445.50,368.00L444.80,368.00L442.05,365.25ZM445.00,364.55L447.75,361.80L448.45,361.80L451.20,364.55L451.20,365.25L448.45,368.00L447.75,368.00L445.00,365.25ZM447.95,364.55L450.70,361.80L451.40,361.80L454.15,364.55L454.15,365.25L451.40,368.00L450.70,368.00L447.95,365.25ZM450.90,364.55L453.65,361.80L454.35,361.80L457.10,364.55L457.10,365.25L454.35,368.00L453.65,368.00L450.90,365.25ZM453.85,364.55L456.60,361.80L457.30,361.80L460.05,364.55L460.05,365.25L457.30,368.00L456.60,368.00L453.85,365.25ZM456.80,364.55L459.55,361.80L460.25,361.80L463.00,364.55L463.00,365.25L460.25,368.00L459.55,368.00L456.80,365.25ZM459.75,364.55L462.50,361.80L463.20,361.80L465.95,364.55L465.95,365.25L463.20,368.00L462.50,368.00L459.75,365.25ZM462.70,364.55L465.45,361.80L466.15,361.80L468.90,364.55L468.90,365.25L466.15,368.00L465.45,368.00L462.70,365.25ZM465.65,364.55L468.40,361.80L469.10,361.80L471.85,364.55L471.85,365.25L469.10,368.00L468.40,368.00L465.65,365.25ZM468.60,364.55L471.35,361.80L472.05,361.80L474.80,364.55L474.80,365.25L472.05,368.00L471.35,368.00L468.60,365.25ZM471.55,364.55L474.30,361.80L475.00,361.80L477.75,364.55L477.75,365.25L475.00,368.00L474.30,368.00L471.55,365.25ZM474.50,364.55L477.25,361.80L477.95,361.80L480.70,364.55L480.70,365.25L477.95,368.00L477.25,368.00L474.50,365.25ZM477.45,364.55L480.20,361.80L480.90,361.80L483.65,364.55L483.65,365.25L480.90,368.00L480.20,368.00L477.45,365.25ZM480.40,364.55L483.15,361.80L483.85,361.80L486.60,364.55L486.60,365.25L483.85,368.00L483.15,368.00L480.40,365.25ZM483.35,364.55L486.10,361.80L486.80,361.80L489.55,364.55L489.55,365.25L486.80,368.00L486.10,368.00L483.35,365.25ZM486.30,364.55L489.05,361.80L489.75,361.80L492.50,364.55L492.50,365.25L489.75,368.00L489.05,368.00L486.30,365.25ZM489.25,364.55L492.00,361.80L492.70,361.80L495.45,364.55L495.45,365.25L492.70,368.00L492.00,368.00L489.25,365.25ZM492.20,364.55L494.95,361.80L495.65,361.80L498.40,364.55L498.40,365.25L495.65,368.00L494.95,368.00L492.20,365.25ZM495.15,364.55L497.90,361.80L498.60,361.80L501.35,364.55L501.35,365.25L498.60,368.00L497.90,368.00L495.15,365.25ZM498.10,364.55L500.85,361.80L501.55,361.80L504.30,364.55L504.30,365.25L501.55,368.00L500.85,368.00L498.10,365.25ZM501.05,364.55L503.80,361.80L504.50,361.80L507.25,364.55L507.25,365.25L504.50,368.00L503.80,368.00L501.05,365.25ZM504.00,364.55L506.75,361.80L507.45,361.80L510.20,364.55L510.20,365.25L507.45,368.00L506.75,368.00L504.00,365.25ZM506.95,364.55L509.70,361.80L510.40,361.80L513.15,364.55L513.15,365.25L510.40,368.00L509.70,368.00L506.95,365.25ZM509.90,364.55L512.65,361.80L513.35,361.80L516.10,364.55L516.10,365.25L513.35,368.00L512.65,368.00L509.90,365.25ZM512.85,364.55L515.60,361.80L516.30,361.80L519.05,364.55L519.05,365.25L516.30,368.00L515.60,368.00L512.85,365.25ZM515.80,364.55L518.55,361.80L519.25,361.80L522.00,364.55L522.00,365.25L519.25,368.00L518.55,368.00L515.80,365.25ZM518.75,364.55L521.50,361.80L522.20,361.80L524.95,364.55L524.95,365.25L522.20,368.00L521.50,368.00L518.75,365.25ZM521.70,364.55L524.45,361.80L525.15,361.80L527.90,364.55L527.90,365.25L525.15,368.00L524.45,368.00L521.70,365.25ZM524.65,364.55L527.40,361.80L528.10,361.80L530.85,364.55L530.85,365.25L528.10,368.00L527.40,368.00L524.65,365.25ZM527.60,364.55L530.35,361.80L531.05,361.80L533.80,364.55L533.80,365.25L531.05,368.00L530.35,368.00L527.60,365.25ZM530.55,364.55L533.30,361.80L534.00,361.80L536.75,364.55L536.75,365.25L534.00,368.00L533.30,368.00L530.55,365.25ZM533.50,364.55L536.25,361.80L536.95,361.80L539.70,364.55L539.70,365.25L536.95,368.00L536.25,368.00L533.50,365.25ZM536.45,364.55L539.20,361.80L539.90,361.80L542.65,364.55L542.65,365.25L539.90,368.00L539.20,368.00L536.45,365.25ZM539.40,364.55L542.15,361.80L542.85,361.80L545.60,364.55L545.60,365.25L542.85,368.00L542.15,368.00L539.40,365.25ZM542.35,364.55L545.10,361.80L545.80,361.80L548.55,364.55L548.55,365.25L545.80,368.00L545.10,368.00L542.35,365.25ZM545.30,364.55L548.05,361.80L548.75,361.80L551.50,364.55L551.50,365.25L548.75,368.00L548.05,368.00L545.30,365.25ZM548.25,364.55L551.00,361.80L551.70,361.80L554.45,364.55L554.45,365.25L551.70,368.00L551.00,368.00L548.25,365.25ZM551.20,364.55L553.95,361.80L554.65,361.80L557.40,364.55L557.40,365.25L554.65,368.00L553.95,368.00L551.20,365.25ZM554.15,364.55L556.90,361.80L557.60,361.80L560.35,364.55L560.35,365.25L557.60,368.00L556.90,368.00L554.15,365.25ZM557.10,364.55L559.85,361.80L560.55,361.80L563.30,364.55L563.30,365.25L560.55,368.00L559.85,368.00L557.10,365.25ZM560.05,364.55L562.80,361.80L563.50,361.80L566.25,364.55L566.25,365.25L563.50,368.00L562.80,368.00L560.05,365.25ZM563.00,364.55L565.75,361.80L566.45,361.80L569.20,364.55L569.20,365.25L566.45,368.00L565.75,368.00L563.00,365.25ZM565.95,364.55L568.70,361.80L569.40,361.80L572.15,364.55L572.15,365.25L569.40,368.00L568.70,368.00L565.95,365.25ZM568.90,364.55L571.65,361.80L572.35,361.80L575.10,364.55L575.10,365.25L572.35,368.00L571.65,368.00L568.90,365.25ZM571.85,364.55L574.60,361.80L575.30,361.80L578.05,364.55L578.05,365.25L575.30,368.00L574.60,368.00L571.85,365.25ZM574.80,364.55L577.55,361.80L578.25,361.80L581.00,364.55L581.00,365.25L578.25,368.00L577.55,368.00L574.80,365.25ZM577.75,364.55L580.50,361.80L581.20,361.80L583.95,364.55L583.95,365.25L581.20,368.00L580.50,368.00L577.75,365.25ZM580.70,364.55L583.45,361.80L584.15,361.80L586.90,364.55L586.90,365.25L584.15,368.00L583.45,368.00L580.70,365.25ZM583.65,364.55L586.40,361.80L587.10,361.80L589.85,364.55L589.85,365.25L587.10,368.00L586.40,368.00L583.65,365.25ZM586.60,364.55L589.35,361.80L590.05,361.80L592.80,364.55L592.80,365.25L590.05,368.00L589.35,368.00L586.60,365.25ZM589.55,364.55L592.30,361.80L593.00,361.80L595.75,364.55L595.75,365.25L593.00,368.00L592.30,368.00L589.55,365.25ZM592.50,364.55L595.25,361.80L595.95,361.80L598.70,364.55L598.70,365.25L595.95,368.00L595.25,368.00L592.50,365.25ZM595.45,364.55L598.20,361.80L598.90,361.80L601.65,364.55L601.65,365.25L598.90,368.00L598.20,368.00L595.45,365.25ZM598.40,364.55L601.15,361.80L601.85,361.80L604.60,364.55L604.60,365.25L601.85,368.00L601.15,368.00L598.40,365.25ZM601.35,364.55L604.10,361.80L604.80,361.80L607.55,364.55L607.55,365.25L604.80,368.00L604.10,368.00L601.35,365.25ZM604.30,364.55L607.05,361.80L607.75,361.80L610.50,364.55L610.50,365.25L607.75,368.00L607.05,368.00L604.30,365.25ZM607.25,364.55L610.00,361.80L610.70,361.80L613.45,364.55L613.45,365.25L610.70,368.00L610.00,368.00L607.25,365.25ZM610.20,364.55L612.95,361.80L613.65,361.80L616.40,364.55L616.40,365.25L613.65,368.00L612.95,368.00L610.20,365.25ZM613.15,364.55L615.90,361.80L616.60,361.80L619.35,364.55L619.35,365.25L616.60,368.00L615.90,368.00L613.15,365.25ZM616.10,364.55L618.85,361.80L619.55,361.80L622.30,364.55L622.30,365.25L619.55,368.00L618.85,368.00L616.10,365.25ZM619.05,364.55L621.80,361.80L622.50,361.80L625.25,364.55L625.25,365.25L622.50,368.00L621.80,368.00L619.05,365.25ZM622.00,364.55L624.75,361.80L625.45,361.80L628.20,364.55L628.20,365.25L625.45,368.00L624.75,368.00L622.00,365.25ZM624.95,364.55L627.70,361.80L628.40,361.80L631.15,364.55L631.15,365.25L628.40,368.00L627.70,368.00L624.95,365.25ZM627.90,364.55L630.65,361.80L631.35,361.80L634.10,364.55L634.10,365.25L631.35,368.00L630.65,368.00L627.90,365.25ZM630.85,364.55L633.60,361.80L634.30,361.80L637.05,364.55L637.05,365.25L634.30,368.00L633.60,368.00L630.85,365.25ZM633.80,364.55L636.55,361.80L637.25,361.80L640.00,364.55L640.00,365.25L637.25,368.00L636.55,368.00L633.80,365.25ZM636.75,364.55L639.50,361.80L640.20,361.80L642.95,364.55L642.95,365.25L640.20,368.00L639.50,368.00L636.75,365.25ZM639.70,364.55L642.45,361.80L643.15,361.80L645.90,364.55L645.90,365.25L643.15,368.00L642.45,368.00L639.70,365.25ZM642.65,364.55L645.40,361.80L646.10,361.80L648.85,364.55L648.85,365.25L646.10,368.00L645.40,368.00L642.65,365.25ZM645.60,364.55L648.35,361.80L649.05,361.80L651.80,364.55L651.80,365.25L649.05,368.00L648.35,368.00L645.60,365.25ZM648.55,364.55L651.30,361.80L652.00,361.80L654.75,364.55L654.75,365.25L652.00,368.00L651.30,368.00L648.55,365.25Z" fill="#000" shape-rendering="auto"/>
</svg>
<rect x="408" y="42" width="180" height="198" fill="#cccccc"/>
<rect x="408" y="42" width="1" height="197" fill="#b4b4b4"/>
<rect x="409" y="42" width="165" height="1" fill="#dcdcdc"/>
<rect x="573" y="42" width="2" height="196" fill="#dedede"/>
<rect x="575" y="42" width="5" height="196" fill="#acacac"/>
<rect x="580" y="42" width="4" height="196" fill="#9c9c9c"/>
<rect x="584" y="42" width="2" height="198" fill="#747474"/>
<rect x="586" y="42" width="2" height="198" fill="#565656"/>
<rect x="411" y="238" width="175" height="1" fill="#7c7c7c"/>
<rect x="411" y="239" width="175" height="1" fill="#a8a8a8"/>
<text x="422.5" y="57" font-size="12" letter-spacing="0.62">Data ROC</text>
<rect x="532" y="44" width="41" height="18" fill="#ffffff"/>
<rect x="532" y="44" width="41" height="1" fill="#808080"/>
<rect x="532" y="44" width="1" height="17" fill="#808080"/>
<text x="422.5" y="79" font-size="12" letter-spacing="0.0">FIT</text>
<rect x="532" y="66" width="41" height="18" fill="#ffffff"/>
<rect x="532" y="66" width="41" height="1" fill="#808080"/>
<rect x="532" y="66" width="1" height="17" fill="#808080"/>
<text transform="translate(423,101) scale(1.17,1)" font-size="12">100</text>
<rect x="532" y="88" width="41" height="18" fill="#ffffff"/>
<rect x="532" y="88" width="41" height="1" fill="#808080"/>
<rect x="532" y="88" width="1" height="17" fill="#808080"/>
<text transform="translate(423,123) scale(1.17,1)" font-size="12">150</text>
<rect x="532" y="110" width="41" height="18" fill="#ffffff"/>
<rect x="532" y="110" width="41" height="1" fill="#808080"/>
<rect x="532" y="110" width="1" height="17" fill="#808080"/>
<text transform="translate(423,145) scale(1.17,1)" font-size="12">250</text>
<rect x="532" y="132" width="41" height="18" fill="#ffffff"/>
<rect x="532" y="132" width="41" height="1" fill="#808080"/>
<rect x="532" y="132" width="1" height="17" fill="#808080"/>
<text transform="translate(423,167) scale(1.17,1)" font-size="12">450</text>
<rect x="532" y="154" width="41" height="18" fill="#ffffff"/>
<rect x="532" y="154" width="41" height="1" fill="#808080"/>
<rect x="532" y="154" width="1" height="17" fill="#808080"/>
<text transform="translate(423,189) scale(1.17,1)" font-size="12">100</text>
<rect x="532" y="176" width="41" height="18" fill="#ffffff"/>
<rect x="532" y="176" width="41" height="1" fill="#808080"/>
<rect x="532" y="176" width="1" height="17" fill="#808080"/>
<text transform="translate(423,211) scale(1.17,1)" font-size="12">100</text>
<rect x="532" y="198" width="41" height="18" fill="#ffffff"/>
<rect x="532" y="198" width="41" height="1" fill="#808080"/>
<rect x="532" y="198" width="1" height="17" fill="#808080"/>
<text x="422.5" y="233" font-size="12" letter-spacing="1.15">Plot 8</text>
<rect x="532" y="220" width="41" height="18" fill="#ffffff"/>
<rect x="532" y="220" width="41" height="1" fill="#808080"/>
<rect x="532" y="220" width="1" height="17" fill="#808080"/>
<g shape-rendering="auto">
<svg x="533" y="45" width="40" height="17" viewBox="533 45 40 17" overflow="hidden">
<path d="M530,56.5 L538.5,56.5 L538.5,47.5 L546.5,47.5 L546.5,56.5 L554.5,56.5 L554.5,47.5 L562.5,47.5 L562.5,56.5 L570.5,56.5 L570.5,47" fill="none" stroke="#000" stroke-width="1" shape-rendering="crispEdges"/>
<path d="M531.6,57.2 L535,54.2 L538.4,57.2 L535,60.2 Z" fill="#000"/>
<path d="M539.6,48.2 L543,45.2 L546.4,48.2 L543,51.2 Z" fill="#000"/>
<path d="M547.3000000000001,57.2 L550.7,54.2 L554.1,57.2 L550.7,60.2 Z" fill="#000"/>
<path d="M555.1,48.2 L558.5,45.2 L561.9,48.2 L558.5,51.2 Z" fill="#000"/>
<path d="M563.3000000000001,57.2 L566.7,54.2 L570.1,57.2 L566.7,60.2 Z" fill="#000"/>
</svg>
<path d="M534.5,77.5 L547,69 L558,77.5 L570,69.5" fill="none" stroke="#0a2a9a" stroke-width="2"/>
<svg x="534" y="85" width="37" height="20" viewBox="534 85 37 20" overflow="hidden"><path d="M528,102.2 L547.5,91.6 L551.5,91.6 L566.5,100.2 L578,93.8" fill="none" stroke="#c8002e" stroke-width="3.8" stroke-linejoin="miter"/></svg>
<path d="M534.3,122.7 L544.4,113.1 L554.4,122.7 L564.5,113.1 L571,119" fill="none" stroke="#52b4d6" stroke-width="1"/>
<path d="M534.3,144.7 L544.4,135.1 L554.4,144.7 L564.5,135.1 L571,141" fill="none" stroke="#84d050" stroke-width="1"/>
<svg x="534" y="151" width="37" height="20" viewBox="534 151 37 20" overflow="hidden"><path d="M526,170.5 L550,157.9 L553.5,157.9 L578,170.5" fill="none" stroke="#cc66ff" stroke-width="4.2" stroke-linejoin="miter"/></svg>
<svg x="534" y="173" width="37" height="20" viewBox="534 173 37 20" overflow="hidden"><path d="M526,192.5 L550,179.9 L553.5,179.9 L578,192.5" fill="none" stroke="#ffcc00" stroke-width="4.2" stroke-linejoin="miter"/></svg>
<svg x="534" y="195" width="37" height="20" viewBox="534 195 37 20" overflow="hidden"><path d="M530,210.3 L543.6,210.3 L543.6,202 L561.5,202 L561.5,210.3 L575,210.3" fill="none" stroke="#3399ff" stroke-width="4.4" stroke-linejoin="miter" shape-rendering="crispEdges"/></svg>
<path d="M534.3,232.7 L542.5,223.1 L550.3,232.7 L558.5,223.1 L566.3,232.7 L571,227" fill="none" stroke="#b0449a" stroke-width="1"/>
</g>
</svg></body></html>
